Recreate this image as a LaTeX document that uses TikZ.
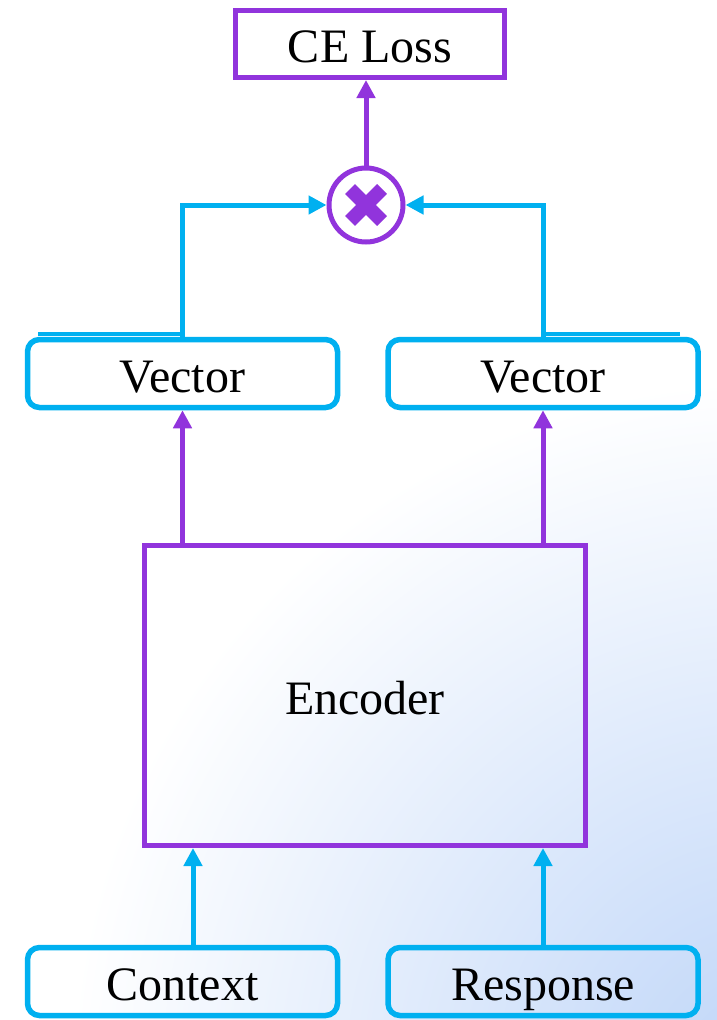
\documentclass[tikz,border=0pt]{standalone}
\usepackage{fontspec}
\setmainfont{Liberation Serif}
\usetikzlibrary{arrows.meta,calc}
\definecolor{vpurple}{RGB}{145,52,220}
\definecolor{vcyan}{RGB}{0,176,240}
\definecolor{bgblue}{RGB}{190,213,248}
\tikzset{
  pbox/.style={draw=vpurple,line width=5pt,inner sep=0pt,text height=37pt,text depth=0pt,font=\fontsize{48}{58}\selectfont},
  cbox/.style={draw=vcyan,line width=5.5pt,rounded corners=12pt,inner sep=0pt,text height=37pt,text depth=0pt,minimum width=310pt,minimum height=68pt,font=\fontsize{48}{58}\selectfont},
  parr/.style={draw=vpurple,line width=5pt,-{Triangle[length=18pt,width=18pt]}},
  carr/.style={draw=vcyan,line width=5pt,-{Triangle[length=18pt,width=18pt]}},
  cline/.style={draw=vcyan,line width=4.5pt},
}
\begin{document}
\begin{tikzpicture}[x=1pt,y=-1pt]
\useasboundingbox (0,0) rectangle (717,1020);
\fill[white] (0,0) rectangle (717,1020);
\begin{scope}
\clip (0,0) rectangle (717,1020);
\shade[inner color=bgblue,outer color=white] (770,1080) circle (700);
\end{scope}
% nodes
\node[pbox,minimum width=269pt,minimum height=67pt] (ce) at (370,44) {CE Loss};
\node[draw=vpurple,line width=5pt,circle,minimum size=74pt,inner sep=0pt] (circ) at (366,205) {};
\node[cbox] (vl) at (182.5,373.5) {Vector};
\node[cbox] (vr) at (543,373.5) {Vector};
\node[pbox,minimum width=441pt,minimum height=300pt] (enc) at (365,695.5) {Encoder};
\node[cbox] (ctx) at (182.5,981.5) {Context};
\node[cbox] (rsp) at (543,981.5) {Response};
% cross inside the circle
\begin{scope}[shift={(circ.center)}]
\draw[vpurple,line width=14pt] (-16,-16) -- (16,16);
\draw[vpurple,line width=14pt] (-16,16) -- (16,-16);
\end{scope}
% extra short segments above vector boxes
\coordinate (sl) at (38,334);
\coordinate (sr) at (680,334);
\draw[cline] (sl) -- (sl -| vl.north);
\draw[cline] (sr) -- (sr -| vr.north);
% connectors
\draw[parr] (circ.north) -- (circ.north |- ce.south);
\draw[carr] (vl.north) |- (circ.west);
\draw[carr] (vr.north) |- (circ.east);
\draw[parr] (enc.north -| vl.north) -- (vl.south);
\draw[parr] (enc.north -| vr.north) -- (vr.south);
\draw[carr] ([xshift=10.5pt]ctx.north) -- ([xshift=10.5pt]ctx.north |- enc.south);
\draw[carr] (rsp.north) -- (rsp.north |- enc.south);
\end{tikzpicture}
\end{document}
